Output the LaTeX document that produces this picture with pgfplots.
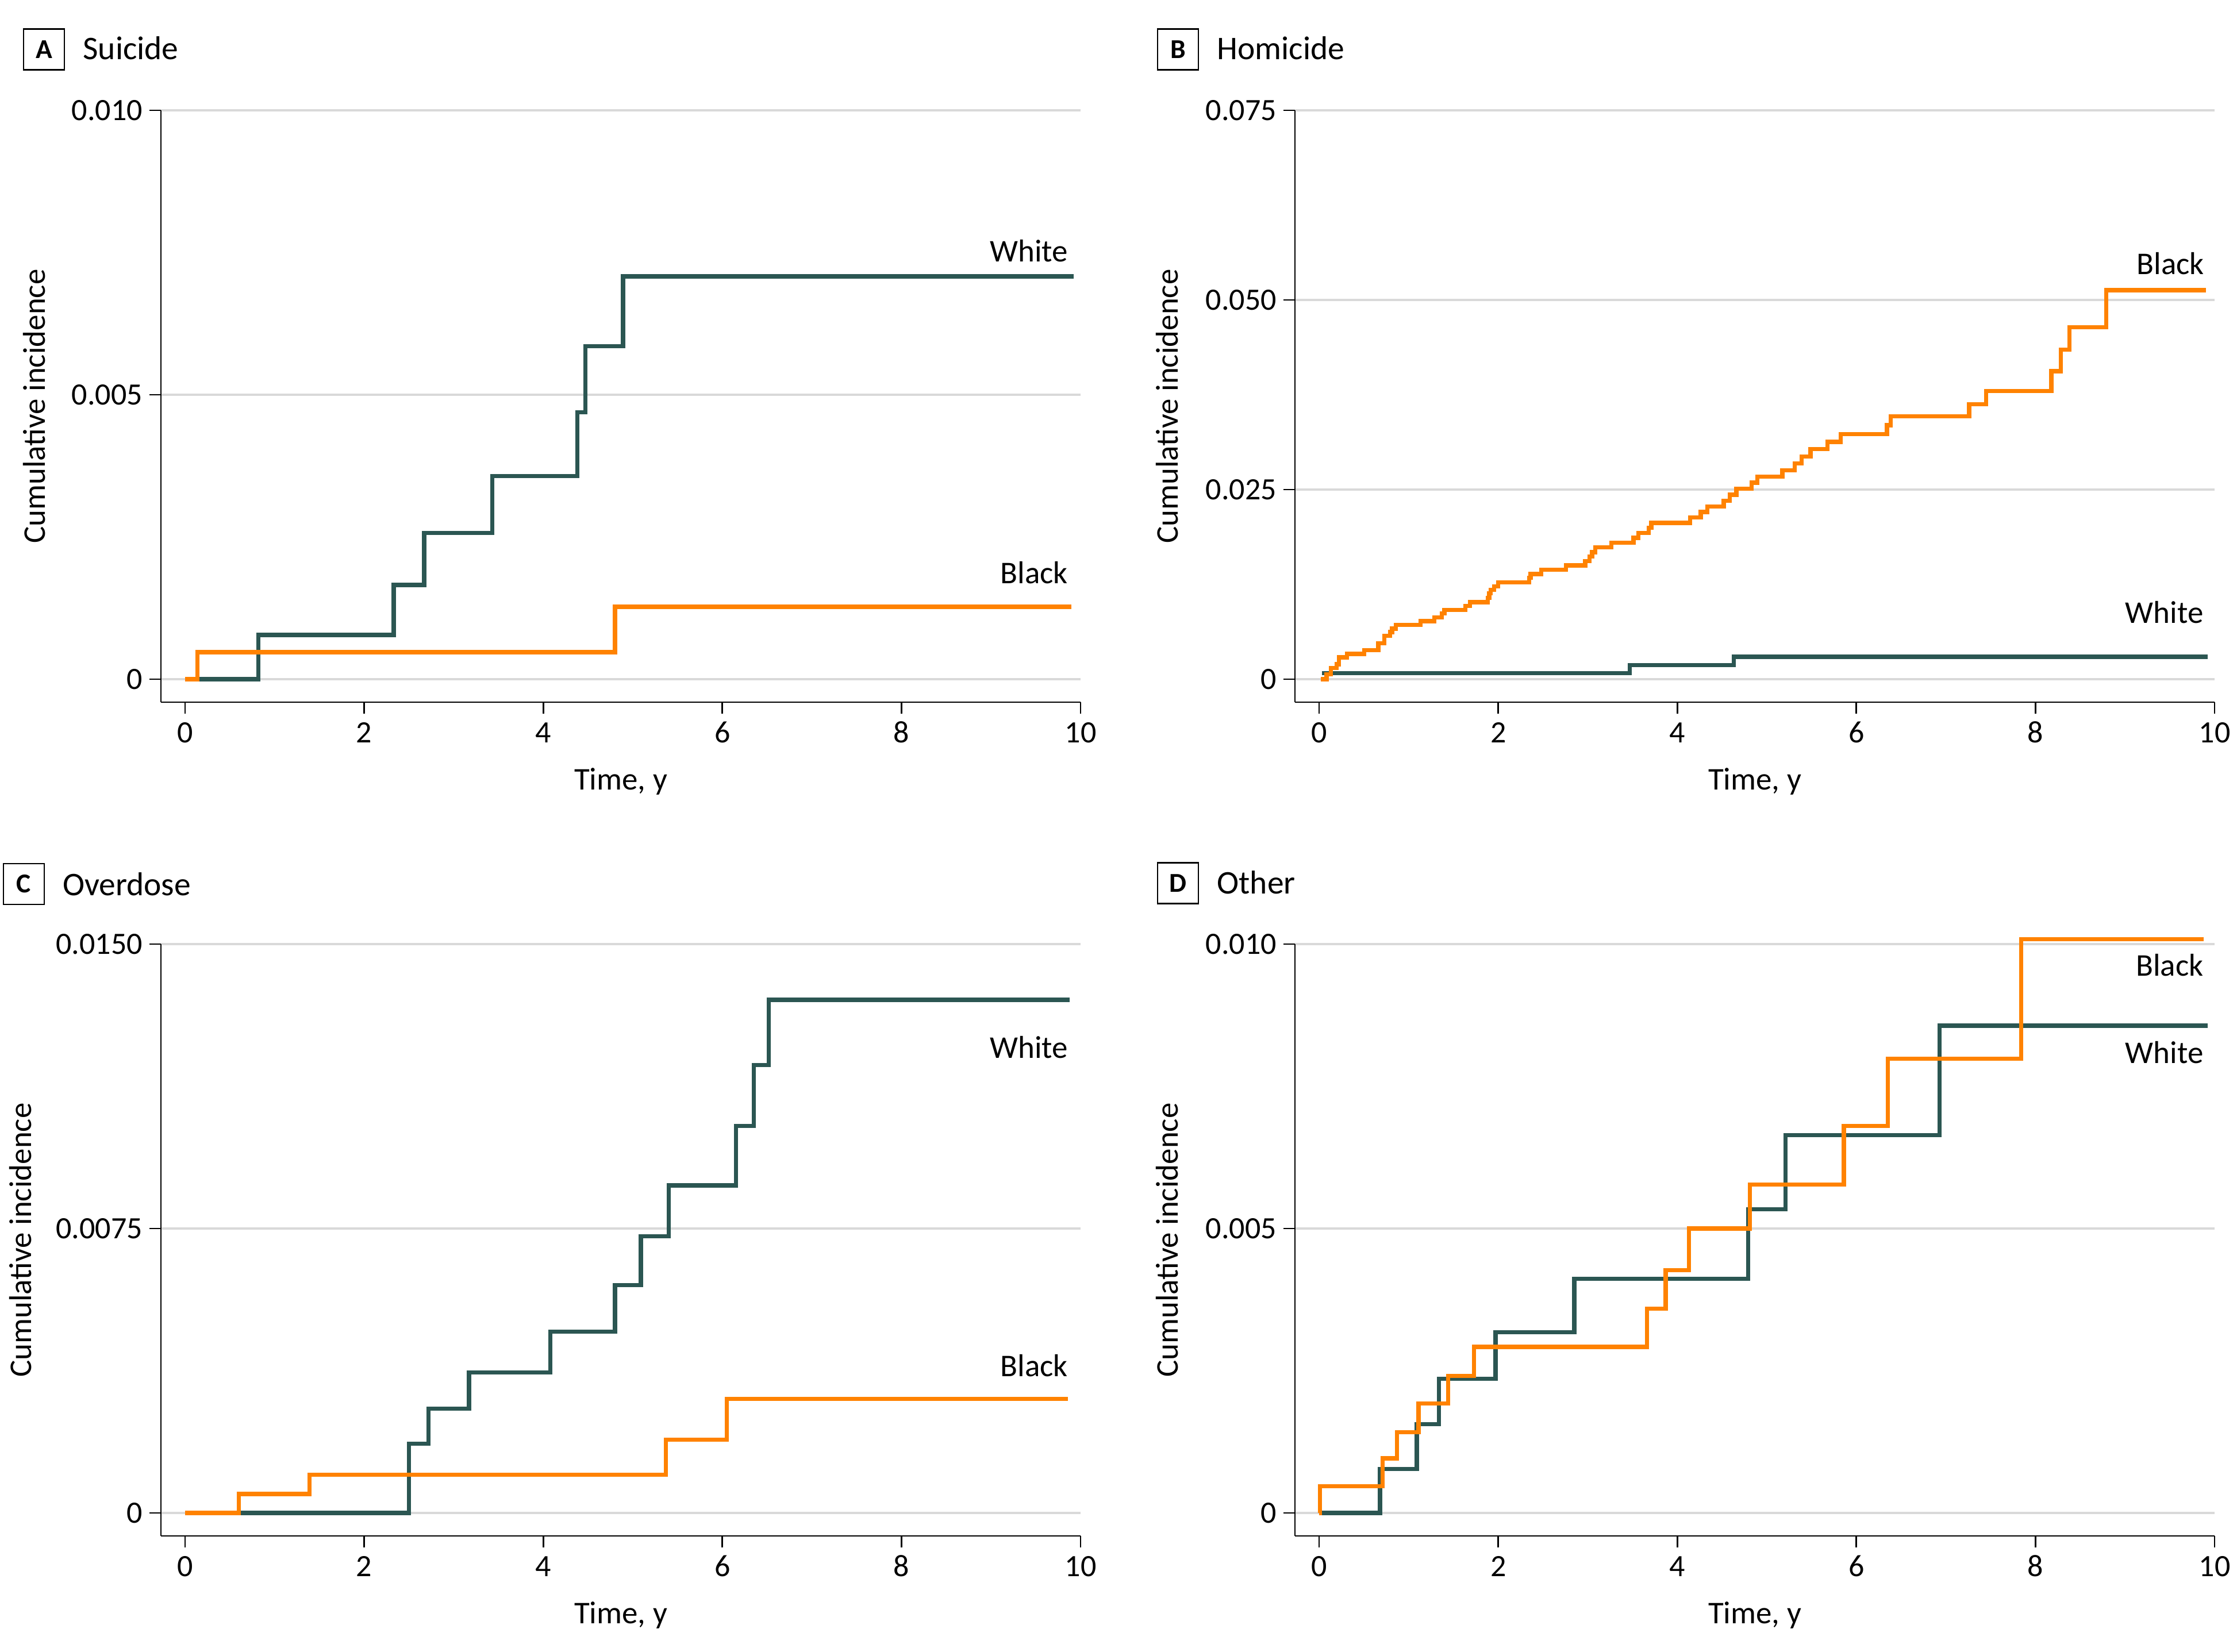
\documentclass[border=0pt]{standalone}
\usepackage{fontspec}
\setmainfont{Carlito}
\usepackage{pgfplots}
\pgfplotsset{compat=1.18}
\definecolor{wcol}{HTML}{2B5652}
\definecolor{bcol}{HTML}{FF8200}
\definecolor{gridc}{HTML}{D9D9D9}
\pgfplotsset{
 panel/.style={
  scale only axis, width=320pt, height=206pt, anchor=south west,
  xmin=-0.27, xmax=10, xtick={0,2,4,6,8,10}, xticklabels={0,2,4,6,8,10},
  scaled y ticks=false, scaled x ticks=false,
  axis x line*=bottom, axis y line*=left,
  axis line style={-, line width=0.55pt, black},
  tick align=outside, major tick length=4pt, tick style={line width=0.55pt, black},
  ymajorgrids, grid style={gridc, line width=0.9pt},
  clip=false,
  tick label style={font=\fontsize{10.8}{12}\selectfont},
  xticklabel style={anchor=base, inner sep=0pt, yshift=-10pt},
  yticklabel style={anchor=east, inner sep=0pt, xshift=-2.2pt},
  xlabel={Time, y}, ylabel={Cumulative incidence},
  label style={font=\fontsize{11}{13}\selectfont},
  xlabel style={at={(axis description cs:0.5,-0.1485)}, anchor=base, inner sep=0pt},
 },
 wline/.style={const plot, wcol, line width=1.45pt, line join=miter, no marks},
 bline/.style={const plot, bcol, line width=1.45pt, line join=miter, no marks},
}
\tikzset{
 lab/.style={anchor=base east, inner sep=0pt, font=\fontsize{11}{13}\selectfont},
 pbox/.style={draw, line width=0.5pt, minimum size=14.2pt, inner sep=0pt, font=\bfseries\fontsize{9.5}{10}\selectfont},
 ptitle/.style={anchor=base west, inner sep=0pt, font=\fontsize{11.5}{13}\selectfont},
}
\begin{document}
\begin{tikzpicture}
\path[use as bounding box] (0pt,0pt) rectangle (778.4pt,-575pt);

% Panel A
\begin{axis}[panel, name=A, at={(56pt,-244.4pt)},
  ymin=-0.000404, ymax=0.010, ytick={0,0.005,0.010}, yticklabels={0,0.005,0.010},
  ylabel style={at={(axis description cs:-0.1375,0.5)}, anchor=center, inner sep=0pt}]
\addplot[wline] coordinates {(0,0) (0.82,0.000778) (2.33,0.001656) (2.67,0.002571) (3.43,0.003568) (4.38,0.004694) (4.47,0.005855) (4.89,0.007081) (9.92,0.007081)};
\addplot[bline] coordinates {(0,0) (0.136,0.000476) (4.80,0.001272) (9.90,0.001272)};
\node[lab] at (axis cs:9.865,0.00734) {White};
\node[lab] at (axis cs:9.865,0.001677) {Black};
\end{axis}
\node[pbox] at ([xshift=-40.7pt,yshift=21.2pt]A.north west) {A};
\node[ptitle] at ([xshift=-27.3pt,yshift=17.6pt]A.north west) {Suicide};

% Panel B
\begin{axis}[panel, name=B, at={(450.6pt,-244.4pt)},
  ymin=-0.00303, ymax=0.075, ytick={0,0.025,0.050,0.075}, yticklabels={0,0.025,0.050,0.075},
  ylabel style={at={(axis description cs:-0.139,0.5)}, anchor=center, inner sep=0pt}]
\addplot[wline] coordinates {(0.03,0.00082) (3.47,0.00185) (4.63,0.00295) (9.92,0.00295)};
\addplot[bline] coordinates {(0.02,0) (0.083,0.00066) (0.130,0.00146) (0.195,0.00197) (0.219,0.00288) (0.313,0.00333) (0.505,0.00381) (0.661,0.00475) (0.726,0.00571) (0.791,0.00621) (0.814,0.00667) (0.858,0.00717) (1.132,0.00765) (1.286,0.00816) (1.368,0.00866) (1.398,0.00911) (1.634,0.00967) (1.684,0.01015) (1.881,0.01071) (1.899,0.01131) (1.917,0.01177) (1.955,0.01222) (1.999,0.01278) (2.347,0.01336) (2.361,0.01386) (2.479,0.01442) (2.754,0.0150) (2.972,0.01556) (3.019,0.01619) (3.048,0.01674) (3.084,0.01737) (3.261,0.01801) (3.511,0.01864) (3.564,0.01929) (3.679,0.01998) (3.709,0.02061) (4.144,0.02131) (4.262,0.02205) (4.336,0.02278) (4.518,0.02354) (4.585,0.02432) (4.660,0.0251) (4.830,0.02591) (4.892,0.02672) (5.173,0.02755) (5.309,0.02843) (5.390,0.02937) (5.487,0.03033) (5.676,0.03129) (5.822,0.03232) (6.341,0.03348) (6.384,0.03467) (7.259,0.03626) (7.450,0.03798) (8.176,0.04061) (8.283,0.04346) (8.377,0.04641) (8.790,0.05129) (9.903,0.05129)};
\node[lab] at (axis cs:9.89,0.0534) {Black};
\node[lab] at (axis cs:9.88,0.00742) {White};
\end{axis}
\node[pbox] at ([xshift=-40.7pt,yshift=21.2pt]B.north west) {B};
\node[ptitle] at ([xshift=-27.3pt,yshift=17.6pt]B.north west) {Homicide};

% Panel C
\begin{axis}[panel, name=C, at={(56pt,-534.6pt)},
  ymin=-0.000606, ymax=0.015, ytick={0,0.0075,0.015}, yticklabels={0,0.0075,0.0150},
  ylabel style={at={(axis description cs:-0.153,0.5)}, anchor=center, inner sep=0pt}]
\addplot[wline] coordinates {(0,0) (2.50,0.00183) (2.72,0.002745) (3.17,0.003701) (4.08,0.004783) (4.80,0.006003) (5.09,0.007292) (5.40,0.008637) (6.15,0.010203) (6.35,0.011811) (6.52,0.01353) (9.88,0.01353)};
\addplot[bline] coordinates {(0,0) (0.60,0.000499) (1.39,0.001012) (5.37,0.001927) (6.05,0.003008) (9.86,0.003008)};
\node[lab] at (axis cs:9.865,0.0120) {White};
\node[lab] at (axis cs:9.865,0.0036) {Black};
\end{axis}
\node[pbox] at ([xshift=-47.7pt,yshift=20.9pt]C.north west) {C};
\node[ptitle] at ([xshift=-34.4pt,yshift=17pt]C.north west) {Overdose};

% Panel D
\begin{axis}[panel, name=D, at={(450.6pt,-534.6pt)},
  ymin=-0.000404, ymax=0.010, ytick={0,0.005,0.010}, yticklabels={0,0.005,0.010},
  ylabel style={at={(axis description cs:-0.139,0.5)}, anchor=center, inner sep=0pt}]
\addplot[wline] coordinates {(0,0) (0.68,0.000776) (1.09,0.001562) (1.34,0.002357) (1.97,0.003179) (2.85,0.004113) (4.79,0.005342) (5.21,0.006645) (6.93,0.008567) (9.92,0.008567)};
\addplot[bline] coordinates {(0,0) (0.01,0.000471) (0.71,0.000961) (0.87,0.001423) (1.11,0.001922) (1.44,0.002412) (1.73,0.002920) (3.66,0.003595) (3.87,0.004270) (4.13,0.005) (4.81,0.005776) (5.86,0.006802) (6.35,0.007985) (7.84,0.010083) (9.88,0.010083)};
\node[lab] at (axis cs:9.88,0.00944) {Black};
\node[lab] at (axis cs:9.88,0.0079) {White};
\end{axis}
\node[pbox] at ([xshift=-40.7pt,yshift=21.2pt]D.north west) {D};
\node[ptitle] at ([xshift=-27.3pt,yshift=17.6pt]D.north west) {Other};
\end{tikzpicture}
\end{document}
